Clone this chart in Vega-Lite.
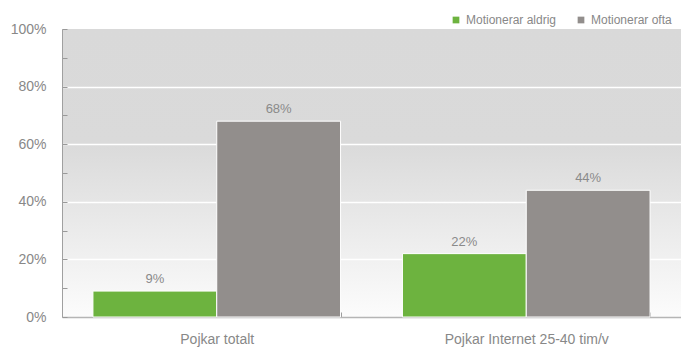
{
  "$schema": "https://vega.github.io/schema/vega-lite/v6.json",
  "width": 619,
  "height": 288,
  "autosize": {"type": "none"},
  "padding": {"left": 62, "top": 29, "right": 0, "bottom": 32},
  "background": "white",
  "config": {
    "font": "Liberation Sans",
    "view": {
      "stroke": null,
      "fill": {
        "gradient": "linear", "x1": 0, "y1": 0, "x2": 0, "y2": 1,
        "stops": [
          {"offset": 0, "color": "#d9d9d9"},
          {"offset": 0.4, "color": "#dadada"},
          {"offset": 1, "color": "#fcfcfc"}
        ]
      }
    }
  },
  "data": {
    "values": [
      {"group": "Pojkar totalt", "serie": "Motionerar aldrig", "value": 0.09},
      {"group": "Pojkar totalt", "serie": "Motionerar ofta", "value": 0.68},
      {"group": "Pojkar Internet 25-40 tim/v", "serie": "Motionerar aldrig", "value": 0.22},
      {"group": "Pojkar Internet 25-40 tim/v", "serie": "Motionerar ofta", "value": 0.44}
    ]
  },
  "encoding": {
    "x": {
      "field": "group", "type": "nominal", "sort": null,
      "scale": {"paddingInner": 0.2, "paddingOuter": 0.1},
      "axis": {
        "title": null, "labelAngle": 0, "tickBand": "extent",
        "domainColor": "#b5b5b5", "domainWidth": 1.5,
        "tickColor": "#999999", "tickSize": -5,
        "labelColor": "#888888", "labelFontSize": 14, "labelPadding": 20
      }
    },
    "xOffset": {"field": "serie", "type": "nominal", "sort": null, "scale": {"paddingInner": 0}},
    "y": {
      "field": "value", "type": "quantitative",
      "scale": {"domain": [0, 1]},
      "axis": {
        "title": null,
        "values": [0, 0.1, 0.2, 0.3, 0.4, 0.5, 0.6, 0.7, 0.8, 0.9, 1],
        "format": ".0%",
        "labelExpr": "round(datum.value*10)%2==0 ? datum.label : ''",
        "grid": true,
        "gridColor": "white",
        "gridWidth": 1.5,
        "gridOpacity": {"condition": {"test": "round(datum.value*10)%2==1 || datum.value==0 || datum.value==1", "value": 0}, "value": 1},
        "domainColor": "#a0a0a0", "domainWidth": 1,
        "tickColor": "#999999", "tickSize": -5,
        "labelColor": "#888888", "labelFontSize": 14, "labelPadding": 21
      }
    }
  },
  "layer": [
    {
      "mark": {"type": "bar", "stroke": "white", "strokeWidth": 1},
      "encoding": {
        "color": {
          "field": "serie", "type": "nominal",
          "scale": {"domain": ["Motionerar aldrig", "Motionerar ofta"], "range": ["#6db33f", "#928e8c"]},
          "legend": {
            "title": null, "orient": "none", "legendX": 388, "legendY": -15,
            "direction": "horizontal", "symbolType": "square", "symbolSize": 45,
            "symbolStrokeWidth": 0, "labelFontSize": 12, "labelColor": "#888888",
            "columnPadding": 18, "padding": 0, "labelOffset": 4
          }
        }
      }
    },
    {
      "mark": {"type": "text", "dy": -8, "baseline": "alphabetic", "fontSize": 13, "color": "#8a8a8a"},
      "encoding": {"text": {"field": "value", "type": "quantitative", "format": ".0%"}}
    }
  ]
}
